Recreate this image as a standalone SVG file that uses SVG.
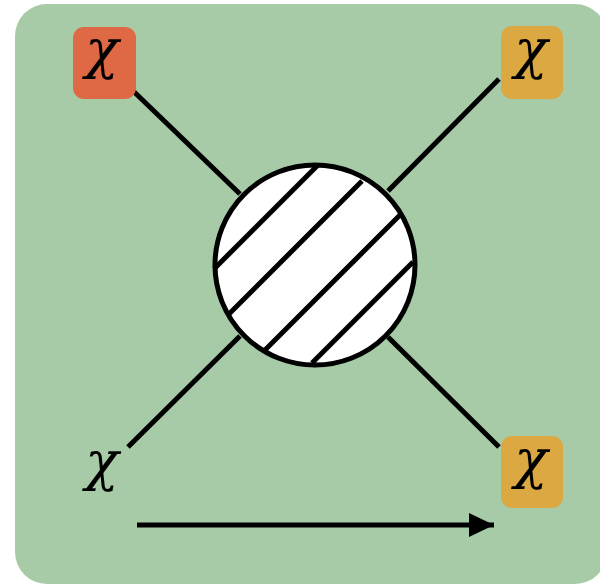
<svg xmlns="http://www.w3.org/2000/svg" width="600" height="587" viewBox="0 0 600 587">
<style>
.ln{stroke:#000;stroke-width:5;fill:none}
.chi{font-family:"DejaVu Serif",serif;font-style:italic;font-size:55px;fill:#000;text-anchor:middle}
</style>
<defs>
<marker id="ah" viewBox="0 0 25 24" refX="25" refY="12" markerWidth="25" markerHeight="24" markerUnits="userSpaceOnUse" orient="auto">
<path d="M0,0 L25,12 L0,24 Z" fill="#000"/>
</marker>
</defs>
<rect x="15" y="4" width="592" height="580" rx="32" fill="#a7cba7"/>
<g id="connectors">
<line class="ln" x1="128" y1="86" x2="240" y2="194"/>
<line class="ln" x1="499" y1="79" x2="388" y2="191"/>
<line class="ln" x1="128" y1="447" x2="240" y2="336"/>
<line class="ln" x1="499" y1="447" x2="388" y2="337"/>
<line class="ln" x1="137" y1="525" x2="494" y2="525" marker-end="url(#ah)"/>
</g>
<g id="blob">
<circle cx="315" cy="265" r="100" fill="#fff" stroke="#000" stroke-width="5"/>
<line class="ln" x1="214" y1="269" x2="318" y2="165"/>
<line class="ln" x1="228" y1="315" x2="362" y2="181"/>
<line class="ln" x1="264" y1="351" x2="400" y2="215"/>
<line class="ln" x1="312" y1="363" x2="413" y2="262"/>
</g>
<g id="chi-top-left">
<rect x="73" y="27" width="63" height="72" rx="11" fill="#df6845"/>
<text class="chi" x="102" y="68">χ</text>
</g>
<g id="chi-top-right">
<rect x="501" y="26" width="62" height="73" rx="11" fill="#dca842"/>
<text class="chi" x="531" y="68">χ</text>
</g>
<g id="chi-bottom-right">
<rect x="501" y="436" width="62" height="72" rx="11" fill="#dca842"/>
<text class="chi" x="531" y="478">χ</text>
</g>
<g id="chi-bottom-left">
<text class="chi" x="102" y="480">χ</text>
</g>
</svg>
